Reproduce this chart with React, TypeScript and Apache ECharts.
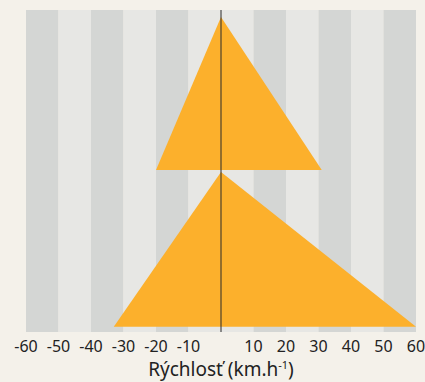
import React, { useEffect, useRef } from "react";
import * as echarts from "echarts";

// x-axis tick values (0 has no label in the reference)
const xTicks = [-60, -50, -40, -30, -20, -10, 0, 10, 20, 30, 40, 50, 60];
// triangle vertices [speed km/h, relative height 0..100]
const upperTriangle: [number, number][] = [[0, 97.8], [-20, 50.3], [31, 50.3]];
const lowerTriangle: [number, number][] = [[0, 49.7], [-33, 1.6], [60, 1.6]];
const triangles = [upperTriangle, lowerTriangle];
// zero reference line
const zeroLine: [number, number][] = [[0, 0], [0, 100]];

const DARK = "#d4d6d4";
const LIGHT = "#e7e7e4";
const bandColors = [DARK, LIGHT, DARK, LIGHT, DARK, LIGHT, LIGHT, DARK, LIGHT, DARK, LIGHT, DARK];

export default function App() {
  const ref = useRef<HTMLDivElement>(null);
  useEffect(() => {
    if (!ref.current) return;
    const chart = echarts.init(ref.current, null, { renderer: "svg" });
    const font = "'Noto Sans', 'Open Sans', sans-serif";
    chart.setOption({
      animation: false,
      backgroundColor: "#f4f1ea",
      textStyle: { fontFamily: font },
      grid: { left: 26, right: 9, top: 10, bottom: 50, containLabel: false, outerBoundsMode: "none" },
      xAxis: {
        type: "value",
        min: xTicks[0],
        max: xTicks[xTicks.length - 1],
        interval: 10,
        axisLine: { show: false },
        axisTick: { show: false },
        splitLine: { show: false },
        splitArea: { show: true, areaStyle: { color: bandColors } },
        axisLabel: {
          margin: 6,
          fontSize: 16,
          color: "#222",
          fontFamily: font,
          formatter: (v: number) => (v === 0 ? "" : String(v)),
        },
        name: "{a|Rýchlosť (km.h}{s|-1}{a|)}",
        nameLocation: "middle",
        nameGap: 26,
        nameTextStyle: {
          rich: {
            a: { fontSize: 19, color: "#222", fontFamily: font },
            s: { fontSize: 11, color: "#222", fontFamily: font, verticalAlign: "top", padding: [0, 0, 9, 0] },
          },
        },
      },
      yAxis: { type: "value", min: 0, max: 100, show: false },
      series: [
        {
          type: "custom",
          data: triangles.map((_, i) => [i]),
          renderItem: (params: any, api: any) => {
            const pts = triangles[params.dataIndex].map((p) => api.coord(p));
            return {
              type: "polygon",
              shape: { points: pts },
              style: { fill: "#fcb02c" },
            };
          },
          z: 2,
        },
        {
          type: "line",
          data: zeroLine,
          symbol: "none",
          lineStyle: { color: "#2a2a2a", width: 1 },
          z: 3,
        },
      ],
    });
    return () => chart.dispose();
  }, []);
  return <div ref={ref} style={{ position: "fixed", left: 0, top: 0, width: 425, height: 382 }} />;
}
